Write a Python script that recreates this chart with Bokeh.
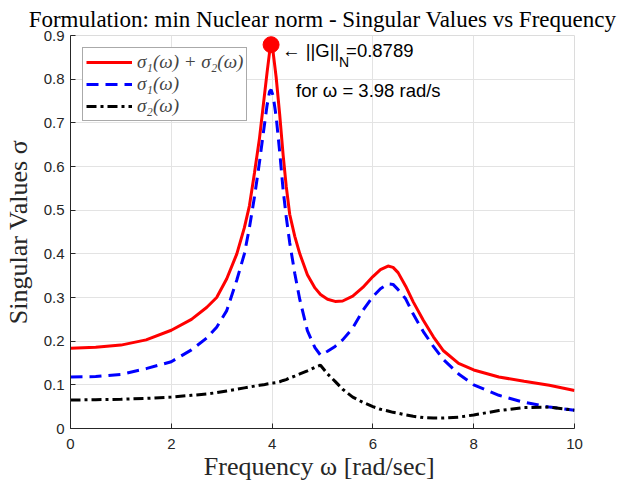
from bokeh.plotting import figure
from bokeh.models import Range1d, Label, FixedTicker
from bokeh.embed import file_html
from bokeh.resources import INLINE

# ---- data ----
freq = [0, 0.5, 1, 1.5, 2, 2.4, 2.7, 2.9, 3.1, 3.3, 3.45, 3.55, 3.65, 3.75, 3.83,
        3.9, 3.95, 3.98, 4.02, 4.08, 4.15, 4.22, 4.28, 4.35, 4.45, 4.55, 4.7,
        4.85, 4.96, 5.1, 5.25, 5.4, 5.6, 5.8, 6.0, 6.15, 6.3, 6.4, 6.5, 6.65,
        6.8, 7.0, 7.2, 7.4, 7.7, 8.0, 8.5, 9.0, 9.5, 10]

sigma_sum = [0.184, 0.186, 0.191, 0.203, 0.225, 0.250, 0.277, 0.300, 0.343, 0.400,
             0.460, 0.510, 0.585, 0.665, 0.745, 0.815, 0.862, 0.879, 0.862, 0.805,
             0.720, 0.625, 0.555, 0.490, 0.440, 0.400, 0.352, 0.322, 0.307, 0.296,
             0.291, 0.292, 0.303, 0.323, 0.348, 0.364, 0.372, 0.369, 0.357, 0.326,
             0.290, 0.248, 0.210, 0.178, 0.149, 0.134, 0.118, 0.108, 0.099, 0.087]

sigma1 = [0.118, 0.119, 0.124, 0.137, 0.153, 0.180, 0.207, 0.232, 0.270, 0.340,
          0.400, 0.460, 0.530, 0.610, 0.680, 0.740, 0.772, 0.776, 0.762, 0.715,
          0.634, 0.545, 0.485, 0.425, 0.355, 0.295, 0.224, 0.185, 0.168, 0.177,
          0.188, 0.203, 0.230, 0.270, 0.302, 0.320, 0.331, 0.330, 0.318, 0.297,
          0.262, 0.222, 0.188, 0.158, 0.125, 0.100, 0.076, 0.060, 0.049, 0.042]

sigma2 = [0.065, 0.066, 0.067, 0.069, 0.072, 0.076, 0.079, 0.082, 0.086, 0.090,
          0.093, 0.095, 0.097, 0.099, 0.100, 0.102, 0.103, 0.104, 0.104, 0.105,
          0.107, 0.110, 0.112, 0.116, 0.120, 0.125, 0.132, 0.140, 0.145, 0.125,
          0.108, 0.090, 0.072, 0.060, 0.050, 0.044, 0.040, 0.037, 0.035, 0.031,
          0.028, 0.025, 0.024, 0.024, 0.026, 0.031, 0.041, 0.048, 0.049, 0.042]

peak_freq = [3.98]
peak_value = [0.8789]

x_ticks = [0, 2, 4, 6, 8, 10]
y_ticks = [0, 0.1, 0.2, 0.3, 0.4, 0.5, 0.6, 0.7, 0.8, 0.9]

SERIF = "Liberation Serif"
SANS = "Liberation Sans"
AXC = "#262626"

p = figure(width=624, height=484, output_backend="svg", toolbar_location=None,
           x_range=Range1d(0, 10), y_range=Range1d(0, 0.9),
           min_border_left=69, min_border_right=50, min_border_bottom=56,
           min_border_top=4,
           title="Formulation: min Nuclear norm - Singular Values vs Frequency")

p.title.text_font = SERIF
p.title.text_font_size = "23px"
p.title.text_font_style = "normal"
p.title.align = "center"
p.title.text_color = "#000000"
p.title.standoff = 8

p.background_fill_color = "white"
p.border_fill_color = "white"
p.outline_line_color = "#dcdcdc"

for ax, ticks in ((p.xaxis, x_ticks), (p.yaxis, y_ticks)):
    ax.ticker = FixedTicker(ticks=ticks)
    ax.major_label_text_font = SANS
    ax.major_label_text_font_size = "15px"
    ax.major_label_text_color = AXC
    ax.axis_line_color = AXC
    ax.major_tick_line_color = AXC
    ax.major_tick_in = 5
    ax.major_tick_out = 0
    ax.minor_tick_line_color = None
    ax.axis_label_text_font = SERIF
    ax.axis_label_text_font_size = "26px"
    ax.axis_label_text_font_style = "normal"
    ax.axis_label_text_color = AXC

p.yaxis.major_label_overrides = {0: "0"}
p.xaxis.axis_label = "Frequency ω  [rad/sec]"
p.yaxis.axis_label = "Singular Values σ"
p.xaxis.major_label_standoff = 10
p.yaxis.major_label_standoff = 6
p.xaxis.axis_label_standoff = 0
p.yaxis.axis_label_standoff = 8

p.xgrid.ticker = FixedTicker(ticks=x_ticks)
p.ygrid.ticker = FixedTicker(ticks=y_ticks)
p.grid.grid_line_color = "#e3e3e3"
p.grid.grid_line_width = 1

p.line(freq, sigma_sum, line_color="#ff0000", line_width=3,
       legend_label="σ₁(ω) + σ₂(ω)")
p.line(freq, sigma1, line_color="#0000ff", line_width=3, line_dash="12 7",
       legend_label="σ₁(ω)")
p.line(freq, sigma2, line_color="#000000", line_width=3, line_dash="10 4 3 4",
       legend_label="σ₂(ω)")
p.scatter(peak_freq, peak_value, size=16, fill_color="#ff0000",
          line_color="#ff0000")

lg = p.legend[0]
lg.location = "top_left"
lg.margin = 12
lg.padding = 3
lg.spacing = 0
lg.glyph_width = 46
lg.glyph_height = 22
lg.label_height = 22
lg.label_standoff = 5
lg.label_text_font = SERIF
lg.label_text_font_size = "19px"
lg.label_text_font_style = "italic"
lg.border_line_color = "#555555"
lg.border_line_width = 1
lg.background_fill_alpha = 1

ann = dict(x_units="data", y_units="data", text_font=SANS,
           text_baseline="middle", text_color="#000000")
p.add_layout(Label(x=peak_freq[0], y=peak_value[0], x_offset=11, y_offset=-6,
                   text="← ||G||", text_font_size="18.5px", **ann))
p.add_layout(Label(x=peak_freq[0], y=peak_value[0], x_offset=68, y_offset=-17,
                   text="N", text_font_size="14px", **ann))
p.add_layout(Label(x=peak_freq[0], y=peak_value[0], x_offset=75, y_offset=-6,
                   text="=0.8789", text_font_size="18.5px", **ann))
p.add_layout(Label(x=peak_freq[0], y=peak_value[0], x_offset=25, y_offset=-46,
                   text="for ω = 3.98 rad/s", text_font_size="18.5px", **ann))

open("out.html", "w").write(file_html(p, INLINE))
